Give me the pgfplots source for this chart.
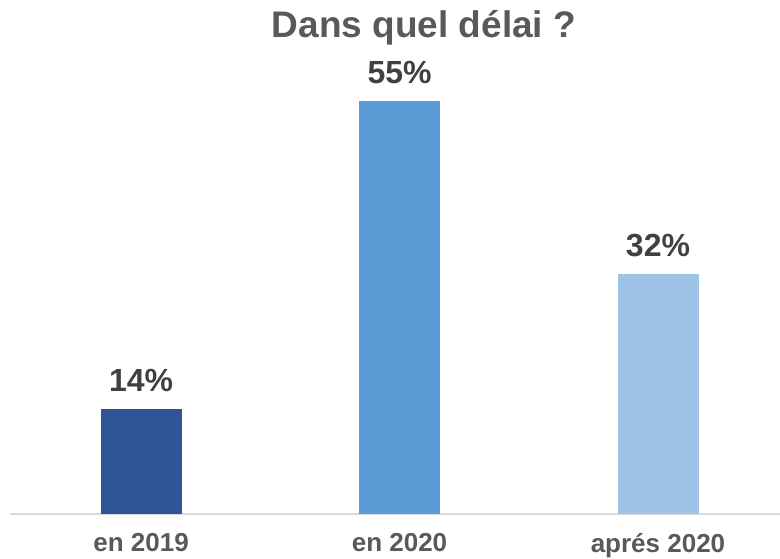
\documentclass[border=0pt]{standalone}
\usepackage{pgfplots}
\pgfplotsset{compat=1.18}
\usepackage{fontspec}
\setmainfont{Liberation Sans}
\definecolor{titlegray}{HTML}{595959}
\definecolor{labelgray}{HTML}{404040}
\definecolor{axisgray}{HTML}{D9D9D9}
\definecolor{barA}{HTML}{2F5597}
\definecolor{barB}{HTML}{5B9BD5}
\definecolor{barC}{HTML}{9DC3E6}
\begin{document}
\begin{tikzpicture}[x=1pt,y=1pt]
\useasboundingbox (-10,-45) rectangle (770,514);
\begin{axis}[
  at={(0,0)}, anchor=south west,
  scale only axis,
  width=770pt, height=450pt,
  xmin=-0.507, xmax=2.472,
  ymin=0, ymax=60,
  axis x line=bottom,
  axis y line=none,
  x axis line style={draw=axisgray, line width=1.2pt, -},
  xtick={0,1,2},
  xticklabels={en 2019,en 2020,aprés 2020},
  major tick length=0pt,
  xticklabel style={font=\fontsize{26}{30}\selectfont\bfseries, text=titlegray, yshift=-16pt},
  ytick=\empty,
  /pgf/number format/assume math mode=true,
  ybar, bar width=81pt, bar shift=0pt,
  nodes near coords={\pgfmathprintnumber{\pgfplotspointmeta}\%},
  nodes near coords style={font=\fontsize{32}{36}\selectfont\bfseries, text=labelgray, yshift=14pt},
  clip=false,
]
\addplot[fill=barA, draw=none] coordinates {(0,14)};
\addplot[fill=barB, draw=none] coordinates {(1,55)};
\addplot[fill=barC, draw=none] coordinates {(2,32)};
\end{axis}
\node[font=\fontsize{37}{42}\selectfont\bfseries, text=titlegray] at (414,486) {Dans quel délai ?};
\end{tikzpicture}
\end{document}
